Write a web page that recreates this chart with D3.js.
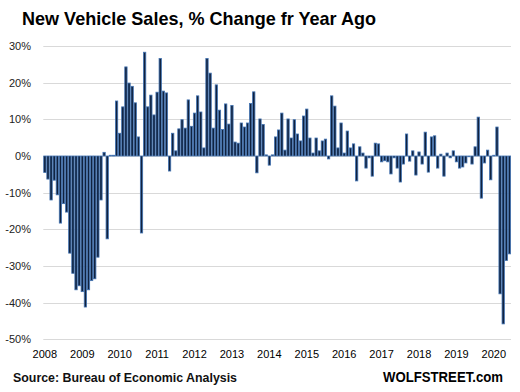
<!DOCTYPE html>
<html><head><meta charset="utf-8">
<script src="https://cdn.jsdelivr.net/npm/d3@7"></script>
<style>body{margin:0;background:#fff}svg{display:block}text{font-family:"Liberation Sans","DejaVu Sans",sans-serif}</style>
</head><body><svg id="c" width="520" height="392"></svg>
<script>
const startYear = 2008;
const yearLabels = ["2008","2009","2010","2011","2012","2013","2014","2015","2016","2017","2018","2019","2020"];
const yTicks = [30,20,10,0,-10,-20,-30,-40,-50];
// % change from a year ago, monthly, Jan 2008 .. Jun 2020
const values = [
 -4.5,-6.3,-12,-6.6,-10.6,-18.3,-13,-15.3,-26.5,-32,-36.5,-35.4,
 -37,-41.2,-36.5,-34,-33.5,-27.6,-12,1.0,-22.6,0.2,0.2,15,
 6.2,13.4,24.3,19.9,19.0,14.5,5.2,-21,28.3,13.4,16.6,11.2,
 17.4,26.6,17.7,17.2,-4.1,6.2,1.4,7.4,9.9,7.6,15.3,8.1,
 11.7,16.4,12.0,2.2,26.6,22.6,7.6,19.4,12.5,7.2,14.2,8.7,
 13.8,3.8,3.5,9.0,7.9,9.0,14.3,17.5,-4.6,10.1,8.6,0.3,
 -2.5,0.3,5.2,7.1,11.7,1.6,10.1,4.9,9.9,6.0,4.1,10.9,
 12.8,4.9,0.8,4.9,1.4,4.1,4.6,-0.8,16.4,13.6,2.2,9.0,
 0.8,6.8,2.2,3.3,-6.8,2.5,0.8,-3.3,-0.5,-5.5,3.5,3.3,
 -1.6,-1.3,-1.6,-4.9,-0.5,-3.3,-7.1,-2.2,6.0,-1.4,1.4,-5.2,
 1.1,-2.2,6.5,-4.4,5.2,5.5,-3.3,0.5,-5.5,0.8,-0.5,1.4,
 -1.6,-3.3,-3.0,-1.9,-0.2,-2.2,2.5,10.6,-11.5,-1.9,1.6,-6.5,
 0.2,7.9,-37.6,-45.8,-28.5,-26.7
];
const svg = d3.select("#c");
const x = d3.scaleBand().domain(d3.range(values.length)).range([43.3, 511]).padding(0);
const y = d3.scaleLinear().domain([-50, 30]).range([339.3, 46]);

// gridlines
svg.append("g").selectAll("line").data(yTicks).join("line")
  .attr("x1", 43.3).attr("x2", 511)
  .attr("y1", d => Math.round(y(d)) + 0.5).attr("y2", d => Math.round(y(d)) + 0.5)
  .attr("stroke", "#d9d9d9").attr("stroke-width", 1);

// y labels
const yAxis = d3.axisLeft(y).tickValues(yTicks).tickFormat(d => d + "%").tickSize(0).tickPadding(0);
const ya = svg.append("g").attr("transform", "translate(31,0)").call(yAxis);
ya.select(".domain").remove();
ya.selectAll("text").attr("font-size", 11).attr("fill", "#222").style("font-family", '"Liberation Sans",sans-serif');

// bars
const bw = x.bandwidth();
svg.append("g").selectAll("rect").data(values).join("rect")
  .attr("x", (d, i) => x(i) + 0.4)
  .attr("width", bw - 0.8)
  .attr("y", d => y(Math.max(0, d)))
  .attr("height", d => Math.max(0.8, Math.abs(y(d) - y(0))))
  .attr("fill", "#10223f").attr("stroke", "#4374b3").attr("stroke-width", 0.8);

// x labels
const xAxis = d3.axisBottom(x)
  .tickValues(yearLabels.map((s, k) => k * 12))
  .tickFormat(i => String(startYear + Math.floor(i / 12)))
  .tickSize(0).tickPadding(0);
const xa = svg.append("g").attr("transform", "translate(0,350)").call(xAxis);
xa.select(".domain").remove();
xa.selectAll("text").attr("font-size", 11).attr("fill", "#000").style("font-family", '"Liberation Sans",sans-serif');

// title
svg.append("text").attr("x", 22).attr("y", 25).attr("font-size", 19).attr("font-weight", "bold")
  .attr("fill", "#000").attr("textLength", 354).attr("lengthAdjust", "spacingAndGlyphs")
  .text("New Vehicle Sales, % Change fr Year Ago");
svg.append("text").attr("x", 13).attr("y", 382).attr("font-size", 12.5).attr("font-weight", "bold")
  .attr("fill", "#111").attr("textLength", 224).attr("lengthAdjust", "spacingAndGlyphs")
  .text("Source: Bureau of Economic Analysis");
svg.append("text").attr("x", 383).attr("y", 382).attr("font-size", 14).attr("font-weight", "bold")
  .attr("fill", "#000").attr("textLength", 120).attr("lengthAdjust", "spacingAndGlyphs")
  .text("WOLFSTREET.com");
</script></body></html>
